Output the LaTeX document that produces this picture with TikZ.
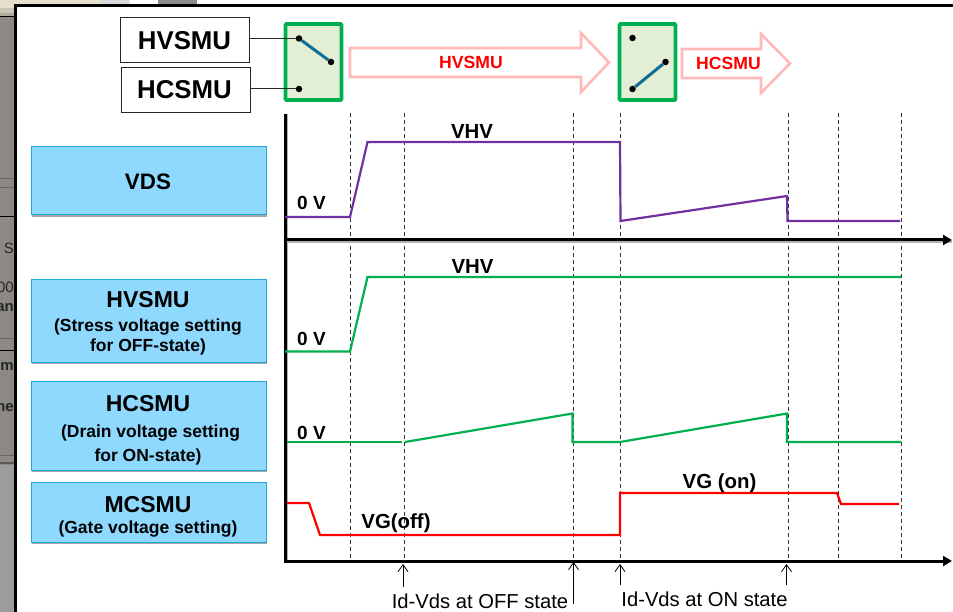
\documentclass[tikz,border=0pt]{standalone}
\usepackage{fontspec}
\setmainfont{Liberation Sans}
\usetikzlibrary{arrows.meta}
\definecolor{skyfill}{HTML}{8FD9FF}
\definecolor{skyline}{HTML}{1FA8DC}
\definecolor{swgreen}{HTML}{00B050}
\definecolor{swfill}{HTML}{E2EFD5}
\definecolor{swblue}{HTML}{0F6E94}
\definecolor{pinkline}{HTML}{FFB9B9}
\definecolor{wavepurple}{HTML}{7030A0}
\definecolor{stripgray}{HTML}{8B8981}
\definecolor{lowgray}{HTML}{9C9C9C}
\definecolor{beigetop}{HTML}{E4E0CC}
\tikzset{
  whitebox/.style={draw=black!85,line width=1pt,fill=white,inner sep=0pt},
  skybox/.style={draw=skyline,line width=1pt,fill=skyfill,inner sep=0pt},
  skyshade/.style={fill=black!35},
  swbox/.style={draw=swgreen,line width=3.6pt,fill=swfill,rounded corners=1pt,inner sep=0pt},
  dotnode/.style={circle,fill=black,inner sep=0pt,minimum size=6.5pt},
  lever/.style={swblue,line width=3pt},
  wire/.style={black!85,line width=1pt},
  blockarrow/.style={draw=pinkline,line width=2.6pt,fill=white,miter limit=10},
  guide/.style={black!80,line width=.9pt,dash pattern=on 4pt off 3pt},
  axisline/.style={black,line width=3pt},
  axisshade/.style={black!30,line width=1.2pt},
  wavep/.style={wavepurple,line width=2.2pt},
  waveg/.style={swgreen,line width=2.2pt},
  waver/.style={red,line width=2.2pt},
  marker/.style={black,line width=.9pt,-{Straight Barb[length=7pt,width=10pt,line width=.8pt]}},
  head/.style={anchor=base,inner sep=0pt,font=\fontsize{25.8}{28}\selectfont\bfseries},
  mainlab/.style={anchor=base,inner sep=0pt,font=\fontsize{23}{26}\selectfont\bfseries},
  sublab/.style={anchor=base,inner sep=0pt,font=\fontsize{17.5}{20}\selectfont\bfseries},
  zerolab/.style={anchor=base,inner sep=0pt,font=\fontsize{19}{22}\selectfont\bfseries},
  levellab/.style={anchor=base,inner sep=0pt,font=\fontsize{20.4}{23}\selectfont\bfseries},
  redlab/.style={anchor=base,inner sep=0pt,text=red,font=\fontsize{17.6}{20}\selectfont\bfseries},
  notelab/.style={anchor=base,inner sep=0pt,font=\fontsize{20.2}{23}\selectfont},
  fraglab/.style={anchor=base east,inner sep=0pt,text=black!85,font=\fontsize{15}{18}\selectfont},
}
\begin{document}
\begin{tikzpicture}[x=1pt,y=-1pt]
\useasboundingbox (0,0) rectangle (953,612);
% screenshot surroundings
\fill[stripgray] (0,17) rectangle (15,465);
\fill[lowgray] (0,465) rectangle (15,612);
\fill[beigetop] (0,0) rectangle (953,8);
\fill[beigetop!70!stripgray] (0,8) rectangle (15,13);
\fill[beigetop!40!stripgray] (0,13) rectangle (15,17);
\fill[black!45] (158,0) rectangle (197,5);
\fill[black!15] (100,0) rectangle (128,5);
\fill[white] (130,0) rectangle (158,5);
\fill[white] (197,0) rectangle (953,5);
\draw[black,line width=1pt] (0,17) -- (15,17);
\draw[black,line width=1pt] (0,217) -- (15,217);
\draw[black,line width=1pt] (0,350) -- (15,350);
\foreach \yy in {178,187,338,455}{\draw[black!60,line width=.8pt] (0,\yy) -- (15,\yy);}
\draw[black!65,line width=2pt] (0,463) -- (15,463);
\begin{scope}
\clip (0,0) rectangle (14,612);
\node[fraglab] (fragA) at (14,254) {S};
\node[fraglab] (fragB) at (14,293) {00};
\node[fraglab,font=\fontsize{15}{18}\selectfont\bfseries] (fragC) at (14,312) {an};
\node[fraglab,font=\fontsize{15}{18}\selectfont\bfseries] (fragD) at (14,370) {im};
\node[fraglab,font=\fontsize{15}{18}\selectfont\bfseries] (fragE) at (14,411) {me};
\end{scope}
\fill[white] (15,6) rectangle (953,612);
\draw[black,line width=3pt] (15.5,612) -- (15.5,6) -- (953,6);

% source boxes
\node[whitebox,minimum width=129pt,minimum height=45pt] (srcHV) at (184.5,40) {};
\node[whitebox,minimum width=129pt,minimum height=45pt] (srcHC) at (185.5,90) {};
\node[head] (srcHVt) at (184.5,49.5) {HVSMU};
\node[head] (srcHCt) at (184.5,99) {HCSMU};

% switches
\node[swbox,minimum width=56pt,minimum height=76pt] (swA) at (313.5,62) {};
\node[swbox,minimum width=56pt,minimum height=76pt] (swB) at (647.5,62) {};
\node[dotnode] (a1) at (299,38.5) {};
\node[dotnode] (a2) at (331,62) {};
\node[dotnode] (a3) at (299,89) {};
\node[dotnode] (b1) at (632.5,38) {};
\node[dotnode] (b2) at (665.5,62) {};
\node[dotnode] (b3) at (632.5,89) {};
\draw[wire] (srcHV.east |- a1) -- (a1);
\draw[wire] (srcHC.east |- a3) -- (a3);
\draw[lever] (a1) -- (a2);
\draw[lever] (b3) -- (b2);

% block arrows
\draw[blockarrow] (350,48) -- (581,48) -- (581,33) -- (609,62.5) -- (581,92) -- (581,77) -- (350,77) -- cycle;
\draw[blockarrow] (682,49) -- (761,49) -- (761,34) -- (790,63.5) -- (761,93) -- (761,78) -- (682,78) -- cycle;
\node[redlab] (arrA) at (471,68.5) {HVSMU};
\node[redlab] (arrB) at (728.5,70) {HCSMU};

% row boxes
\fill[skyshade] (32,149) rectangle (267,217);
\fill[skyshade] (32,282) rectangle (267,364);
\fill[skyshade] (32,383) rectangle (267,472);
\fill[skyshade] (32,484) rectangle (267,544);
\node[skybox,minimum width=235pt,minimum height=68pt] (rowVDS) at (148.5,181) {};
\node[skybox,minimum width=235pt,minimum height=82pt] (rowHV) at (148.5,321) {};
\node[skybox,minimum width=235pt,minimum height=89pt] (rowHC) at (148.5,425.5) {};
\node[skybox,minimum width=235pt,minimum height=60pt] (rowMC) at (148.5,512) {};
\node[mainlab,font=\fontsize{22.4}{26}\selectfont\bfseries] (tVDS) at (148,190) {VDS};
\node[mainlab] (tHV) at (148,308) {HVSMU};
\node[sublab] (tHVa) at (148,331) {(Stress voltage setting};
\node[sublab] (tHVb) at (148,352) {for OFF-state)};
\node[mainlab] (tHC) at (148,411) {HCSMU};
\node[sublab] (tHCa) at (150.5,437) {(Drain voltage setting};
\node[sublab] (tHCb) at (148,461) {for ON-state)};
\node[mainlab] (tMC) at (148,512) {MCSMU};
\node[sublab] (tMCa) at (148,533) {(Gate voltage setting)};

% guides
\foreach \xx/\nm in {350/g1,404/g2,573.5/g3,620/g4,788/g5,838/g6,901/g7}{
  \coordinate (\nm t) at (\xx,113);
  \coordinate (\nm b) at (\xx,561);
  \draw[guide] (\nm t) -- (\nm b);
}

% axes
\coordinate (origin) at (285.5,561);
\coordinate (ytop) at (285.5,114);
\coordinate (midL) at (285.5,240);
\coordinate (midR) at (952,240);
\coordinate (lowR) at (952,561);
\draw[axisshade] ([yshift=-2pt]midL) -- ([yshift=-2pt]midR);
\draw[axisshade] ([xshift=1.5pt]ytop) -- ([xshift=1.5pt]origin);
\draw[axisline] (ytop) -- ([yshift=-1.5pt]origin);
\draw[axisline,-{Triangle[length=9pt,width=10pt]}] (midL) -- (midR);
\draw[axisline,-{Triangle[length=9pt,width=10pt]}] (origin) -- (lowR);

% waveforms
\draw[wavep] (285,217) -- (350,217) -- (367.5,142) -- (620,142) -- (620.5,221) -- (787,196) -- (787.5,221) -- (900,221);
\draw[waveg] (285,351.5) -- (350,351.5) -- (367.5,277) -- (901,277);
\draw[waveg] (287,442) -- (402,442);
\draw[waveg] (405,442) -- (572.5,413.5) -- (572.5,442) -- (620,442) -- (787,413.5) -- (787,442) -- (901,442);
\draw[waver] (287,503) -- (309,503) -- (320,535) -- (620,535) -- (620,493) -- (837,493) -- (841,504) -- (899,504);

% level labels
\node[zerolab] (z1) at (311.5,210) {0 V};
\node[zerolab] (z2) at (311.5,345) {0 V};
\node[zerolab] (z3) at (311.5,439) {0 V};
\node[levellab] (v1) at (472,139) {VHV};
\node[levellab] (v2) at (472.5,274) {VHV};
\node[levellab] (v3) at (396,528) {VG(off)};
\node[levellab] (v4) at (719.5,488) {VG (on)};

% bottom notes
\node[notelab] (noteOff) at (480,608) {Id-Vds at OFF state};
\node[notelab] (noteOn) at (704.5,606.5) {Id-Vds at ON state};
\coordinate (m1s) at (403,587);
\coordinate (m1e) at (403,564);
\coordinate (m2s) at (573.5,604);
\coordinate (m2e) at (573.5,562);
\coordinate (m3s) at (620,585);
\coordinate (m3e) at (620,564);
\coordinate (m4s) at (786.5,585);
\coordinate (m4e) at (786.5,564);
\draw[marker] (m1s) -- (m1e);
\draw[marker] (m2s) -- (m2e);
\draw[marker] (m3s) -- (m3e);
\draw[marker] (m4s) -- (m4e);
\end{tikzpicture}
\end{document}
